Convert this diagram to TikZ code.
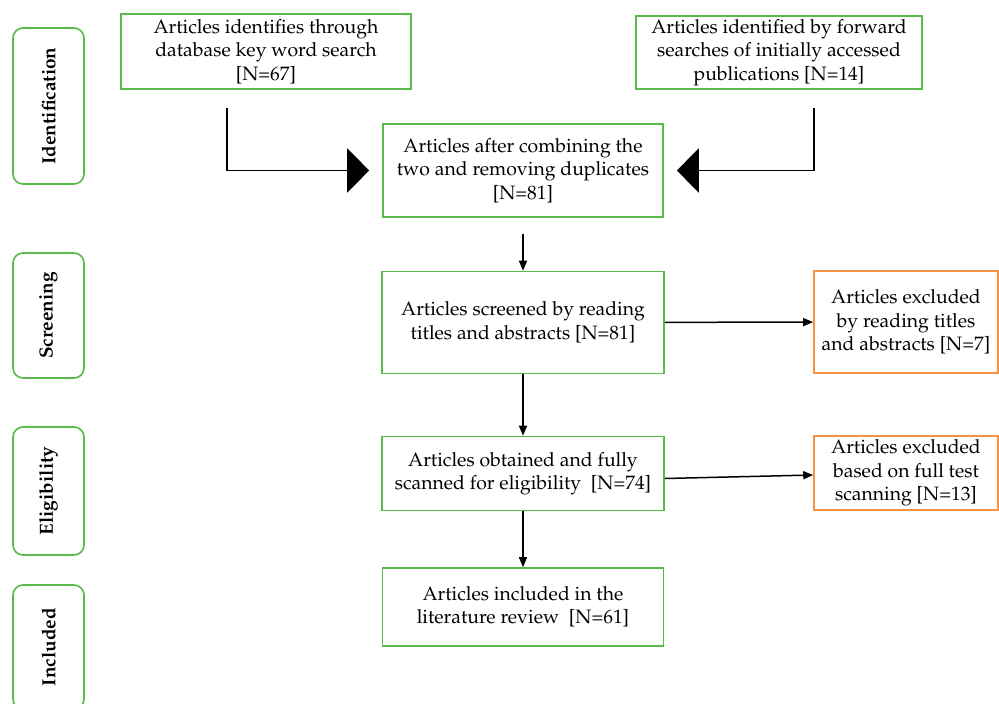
\documentclass[tikz,border=0pt]{standalone}
\usepackage[T1]{fontenc}
\usepackage{mathpazo}
\usetikzlibrary{arrows.meta,positioning}
\definecolor{boxgreen}{RGB}{88,186,72}
\definecolor{boxorange}{RGB}{246,146,66}

\begin{document}
\begin{tikzpicture}[x=1pt, y=-1pt,
    box/.style={draw=boxgreen, line width=1.6pt, align=center, inner sep=2pt, font=\fontsize{19.4}{23.5}\selectfont},
    outbox/.style={box, draw=boxorange},
    stage/.style={draw=boxgreen, line width=1.6pt, rounded corners=10pt, minimum height=71pt, font=\bfseries\fontsize{19}{22}\selectfont},
    line/.style={line width=1.5pt},
    flow/.style={line, -{Triangle[length=10pt, width=8pt]}},
    merge/.style={line, -{Triangle[length=22pt, width=44pt]}}
]
\useasboundingbox (0,0) rectangle (999,704);
% phases on the left
\foreach \y/\h/\name in {106/156/Identification, 315.5/125/Screening, 491/128/Eligibility, 647/124/Included} {
    \node[stage, minimum width=\h pt, rotate=90] (s\name) at (48.5,\y) {\name};
}
% identification
\node[box, minimum width=290pt, minimum height=75pt] (keyword) at (266,51.5) {Articles identifies through\\database key word search\\{[N=67]}};
\node[box, minimum width=286pt, minimum height=73pt] (forward) at (779,52.5) {Articles identified by forward\\searches of initially accessed\\publications [N=14]};
\node[box, minimum width=280pt, minimum height=93pt] (comb) at (523,170.5) {Articles after combining the\\two and removing duplicates\\{[N=81]}};
% screening and eligibility
\node[box, minimum width=282pt, minimum height=102pt] (screen) at (523,322.5) {Articles screened by reading\\titles and abstracts [N=81]};
\node[outbox, minimum width=184pt, minimum height=102pt] (excl1) at (906,322) {Articles excluded\\by reading titles\\and abstracts [N=7]};
\node[box, minimum width=282pt, minimum height=74pt] (elig) at (523,473.5) {Articles obtained and fully\\scanned for eligibility~~[N=74]};
\node[outbox, minimum width=184pt, minimum height=74pt] (excl2) at (906,473) {Articles excluded\\based on full test\\scanning [N=13]};
\node[box, minimum width=281pt, minimum height=78pt] (incl) at (523,607) {Articles included in the\\literature review~~[N=61]};

\draw[merge] ([xshift=-39pt,yshift=-18pt]keyword.south) |- ([xshift=-13pt]comb.west);
\draw[merge] ([xshift=35pt,yshift=-18pt]forward.south) |- ([xshift=13pt]comb.east);
\draw[flow] ([yshift=-16pt]comb.south) -- (screen.north);
\draw[flow] (screen) -- (excl1);
\draw[flow] (screen.south) -- (elig.north);
\draw[flow] ([yshift=-5pt]elig.east) -- ([yshift=-2pt]excl2.west);
\draw[flow] (elig.south) -- (incl.north);
\end{tikzpicture}
\end{document}
